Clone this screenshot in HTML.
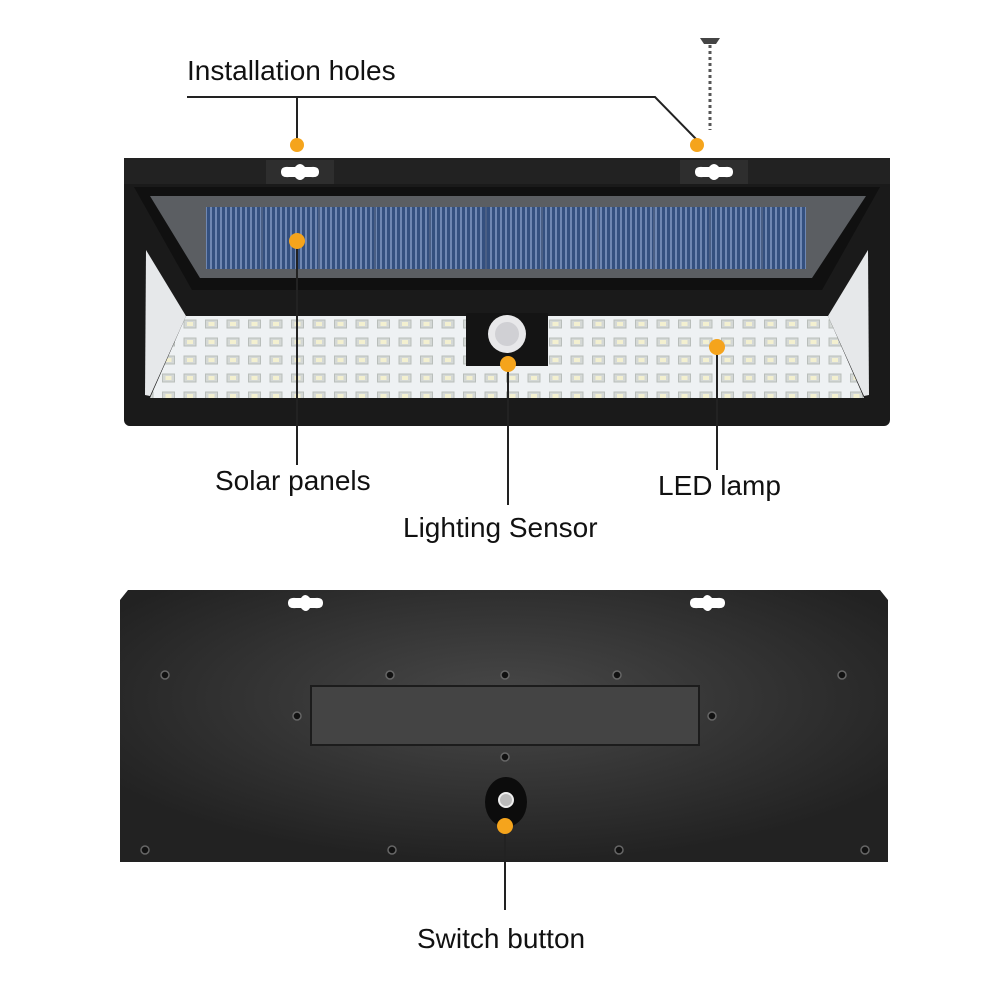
<!DOCTYPE html>
<html><head><meta charset="utf-8"><style>
html,body{margin:0;padding:0;background:#fff;}
svg{display:block}
text{font-family:"Liberation Sans",sans-serif;font-size:28px;fill:#111}
</style></head><body>
<svg width="1000" height="1000" viewBox="0 0 1000 1000" xmlns="http://www.w3.org/2000/svg">
<defs>
<pattern id="sol" width="5" height="10" patternUnits="userSpaceOnUse">
<rect width="5" height="10" fill="#34507f"/><rect width="2" height="10" fill="#6f87b2"/>
</pattern>
<pattern id="led" x="180" y="316" width="21.5" height="18" patternUnits="userSpaceOnUse">
<rect width="21.5" height="18" fill="#eef1f3"/><rect x="4" y="4" width="12" height="8" fill="#d4d8d6" stroke="#b9bebb" stroke-width="1"/><rect x="7" y="6" width="6" height="4" fill="#f3f0d0"/>
</pattern>
<radialGradient id="back" cx="50%" cy="40%" r="60%">
<stop offset="0" stop-color="#484848"/><stop offset="1" stop-color="#222"/>
</radialGradient>
</defs>

<rect x="124" y="158" width="766" height="268" rx="6" fill="#1a1a1a"/>
<rect x="124" y="158" width="766" height="26" fill="#222"/>
<rect x="266" y="160" width="68" height="24" fill="#2e2e2e"/>
<rect x="680" y="160" width="68" height="24" fill="#2e2e2e"/>
<path d="M281 172 q0-6 8-5 l6 0 q5-6 10 0 l6 0 q8-1 8 5 q0 6-8 5 l-6 0 q-5 6-10 0 l-6 0 q-8 1-8-5z" fill="#fff"/>
<path d="M695 172 q0-6 8-5 l6 0 q5-6 10 0 l6 0 q8-1 8 5 q0 6-8 5 l-6 0 q-5 6-10 0 l-6 0 q-8 1-8-5z" fill="#fff"/>
<polygon points="134,187 880,187 822,290 192,290" fill="#101010"/>
<polygon points="150,196 866,196 812,278 200,278" fill="#5b5e62"/>
<rect x="206" y="207" width="600" height="62" fill="url(#sol)"/>
<g stroke="#4a5f85" stroke-width="2">
<line x1="262" y1="207" x2="262" y2="269"/><line x1="319" y1="207" x2="319" y2="269"/><line x1="375" y1="207" x2="375" y2="269"/><line x1="430" y1="207" x2="430" y2="269"/><line x1="486" y1="207" x2="486" y2="269"/><line x1="542" y1="207" x2="542" y2="269"/><line x1="598" y1="207" x2="598" y2="269"/><line x1="654" y1="207" x2="654" y2="269"/><line x1="710" y1="207" x2="710" y2="269"/><line x1="762" y1="207" x2="762" y2="269"/>
</g>
<polygon points="146,250 186,316 150,396 145,395" fill="#e6e8ea"/>
<polygon points="868,250 828,316 864,396 869,395" fill="#e6e8ea"/>
<polygon points="186,316 828,316 864,398 150,398" fill="url(#led)"/>
<rect x="466" y="313" width="82" height="53" fill="#141414"/>
<circle cx="507" cy="334" r="19" fill="#e8e8ea"/>
<circle cx="507" cy="334" r="12" fill="#d0d0d4"/>

<polygon points="128,590 880,590 888,600 888,862 120,862 120,600" fill="url(#back)"/>
<path d="M288 603 q0-6 8-5 l5 0 q4-6 9 0 l5 0 q8-1 8 5 q0 6-8 5 l-5 0 q-4 6-9 0 l-5 0 q-8 1-8-5z" fill="#fff"/>
<path d="M690 603 q0-6 8-5 l5 0 q4-6 9 0 l5 0 q8-1 8 5 q0 6-8 5 l-5 0 q-4 6-9 0 l-5 0 q-8 1-8-5z" fill="#fff"/>
<rect x="311" y="686" width="388" height="59" fill="#444" stroke="#1c1c1c" stroke-width="2"/>
<g fill="#111" stroke="#666" stroke-width="1.5">
<circle cx="165" cy="675" r="4"/><circle cx="390" cy="675" r="4"/><circle cx="617" cy="675" r="4"/><circle cx="842" cy="675" r="4"/>
<circle cx="505" cy="675" r="4"/><circle cx="505" cy="757" r="4"/>
<circle cx="297" cy="716" r="4"/><circle cx="712" cy="716" r="4"/>
<circle cx="145" cy="850" r="4"/><circle cx="392" cy="850" r="4"/><circle cx="619" cy="850" r="4"/><circle cx="865" cy="850" r="4"/>
</g>
<ellipse cx="506" cy="802" rx="21" ry="25" fill="#0c0c0c"/>
<circle cx="506" cy="800" r="7" fill="#bbb" stroke="#eee" stroke-width="2"/>

<g stroke="#222" stroke-width="2" fill="none">
<polyline points="187,97 655,97 697,140"/>
<line x1="297" y1="97" x2="297" y2="145"/>
<line x1="297" y1="241" x2="297" y2="465"/>
<line x1="717" y1="347" x2="717" y2="470"/>
<line x1="508" y1="364" x2="508" y2="505"/>
<line x1="505" y1="826" x2="505" y2="910"/>
</g>
<line x1="710" y1="45" x2="710" y2="130" stroke="#555" stroke-width="3" stroke-dasharray="3,3"/>
<path d="M700 38 h20 l-4 6 h-12z" fill="#444"/>
<g fill="#f5a41c">
<circle cx="297" cy="145" r="7"/><circle cx="697" cy="145" r="7"/>
<circle cx="297" cy="241" r="8"/><circle cx="717" cy="347" r="8"/>
<circle cx="508" cy="364" r="8"/><circle cx="505" cy="826" r="8"/>
</g>
<text x="187" y="80">Installation holes</text>
<text x="215" y="490">Solar panels</text>
<text x="658" y="495">LED lamp</text>
<text x="403" y="537">Lighting Sensor</text>
<text x="417" y="948">Switch button</text>
</svg>
</body></html>
